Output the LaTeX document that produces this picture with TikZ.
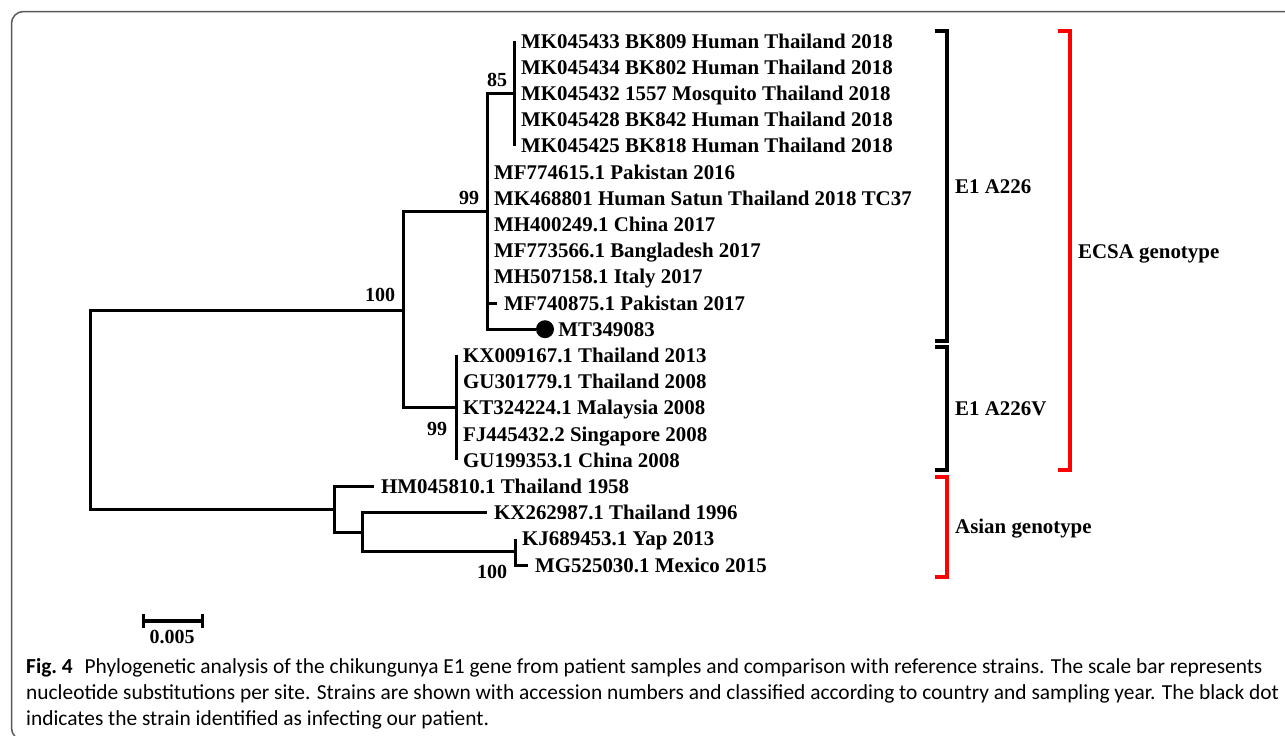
\documentclass[tikz,border=0pt]{standalone}
\usepackage{fontspec}
\setmainfont{Liberation Serif}
\newfontfamily\capfont{Carlito}
\usepackage{tikz}
\usetikzlibrary{positioning}

\begin{document}
\begin{tikzpicture}[x=1pt,y=-1pt,
  branch/.style={line width=3pt,line join=miter},
  leaf/.style={anchor=west,inner xsep=7pt,inner ysep=0pt,text height=14pt,text depth=0pt,font=\fontsize{20.9}{24}\selectfont\bfseries},
  boot/.style={inner sep=0pt,font=\fontsize{20}{24}\selectfont\bfseries},
  clade/.style={line width=4pt,line join=miter},
  grp/.style={anchor=west,inner sep=0pt,text height=14pt,text depth=0pt,font=\fontsize{20.9}{24}\selectfont\bfseries},
  caption/.style={anchor=base west,inner sep=0pt,font=\capfont\fontsize{21.4}{24}\selectfont}]
  \useasboundingbox (0,0) rectangle (1285,736);
  \clip (0,0) rectangle (1285,736);
  \draw[line width=1.5pt,black!65,rounded corners=12pt] (1300,11.5) -- (11.5,11.5) -- (11.5,740) -- (1300,740);

  \coordinate (root) at (90,410);
  \coordinate (ecsa) at (403,310.5);
  \coordinate (e226) at (487,211.3);
  \coordinate (c85) at (514,93.4);
  \coordinate (e226v) at (456,407.8);
  \coordinate (asian) at (334,509.3);
  \coordinate (c2) at (362,532.3);
  \coordinate (c3) at (515,551.9);

  \node[leaf] (l1) at (514,41) {MK045433 BK809 Human Thailand 2018};
  \node[leaf] (l2) at (514,67.2) {MK045434 BK802 Human Thailand 2018};
  \node[leaf] (l3) at (514,93.4) {MK045432 1557 Mosquito Thailand 2018};
  \node[leaf] (l4) at (514,119.6) {MK045428 BK842 Human Thailand 2018};
  \node[leaf] (l5) at (514,145.8) {MK045425 BK818 Human Thailand 2018};
  \node[leaf] (l6) at (487,172) {MF774615.1 Pakistan 2016};
  \node[leaf] (l7) at (487,198.2) {MK468801 Human Satun Thailand 2018 TC37};
  \node[leaf] (l8) at (487,224.4) {MH400249.1 China 2017};
  \node[leaf] (l9) at (487,250.6) {MF773566.1 Bangladesh 2017};
  \node[leaf] (l10) at (487,276.8) {MH507158.1 Italy 2017};
  \node[leaf] (l11) at (497,303) {MF740875.1 Pakistan 2017};
  \node[circle,fill,inner sep=0pt,minimum size=18pt] (dot) at (545,329.2) {};
  \node[leaf,inner xsep=4pt,right=0pt of dot] (l12) {MT349083};
  \node[leaf] (l13) at (456,355.4) {KX009167.1 Thailand 2013};
  \node[leaf] (l14) at (456,381.6) {GU301779.1 Thailand 2008};
  \node[leaf] (l15) at (456,407.8) {KT324224.1 Malaysia 2008};
  \node[leaf] (l16) at (456,434) {FJ445432.2 Singapore 2008};
  \node[leaf] (l17) at (456,460.2) {GU199353.1 China 2008};
  \node[leaf] (l18) at (374,486.4) {HM045810.1 Thailand 1958};
  \node[leaf] (l19) at (487,512.6) {KX262987.1 Thailand 1996};
  \node[leaf] (l20) at (515,538.8) {KJ689453.1 Yap 2013};
  \node[leaf] (l21) at (528,565) {MG525030.1 Mexico 2015};

  \draw[branch] (root) |- (ecsa);
  \draw[branch] (root) |- (asian);
  \draw[branch] (ecsa) |- (e226);
  \draw[branch] (ecsa) |- (e226v);
  \draw[branch] (e226) |- (c85);
  \draw[branch] (e226) |- (l11.west);
  \draw[branch] (e226) |- (dot.west);
  \draw[branch] (l1.west) -- (l5.west);
  \draw[branch] (l13.west) -- (l17.west);
  \draw[branch] (asian) |- (l18.west);
  \draw[branch] (asian) |- (c2);
  \draw[branch] (c2) |- (l19.west);
  \draw[branch] (c2) |- (c3);
  \draw[branch] (c3) -- (l20.west);
  \draw[branch] (c3) |- (l21.west);

  \node[boot] (b100) at (380,295) {100};
  \node[boot] (b99) at (469,198) {99};
  \node[boot] (b85) at (497,80) {85};
  \node[boot] (b99v) at (437,429) {99};
  \node[boot] (b100a) at (492,572) {100};

  \draw[clade] (935,31) -| (947,341) -- (935,341);
  \draw[clade] (935,347) -| (947,470) -- (935,470);
  \draw[clade,red] (1058,31) -| (1070,470) -- (1058,470);
  \draw[clade,red] (935,477) -| (947,577) -- (935,577);
  \node[grp] (ga226) at (955,186) {E1 A226};
  \node[grp] (ga226v) at (955,408) {E1 A226V};
  \node[grp] (gecsa) at (1078,251) {ECSA genotype};
  \node[grp] (gasian) at (955,526) {Asian genotype};

  \draw[line width=4pt] (143,621) -- (202,621);
  \draw[line width=3pt] (143,614) -- (143,628) (202,614) -- (202,628);
  \node[boot] (scale) at (172,637) {0.005};

  \node[caption] (cap1) at (26,673) {\textbf{Fig.~4}\hspace{0.55em}Phylogenetic analysis of the chikungunya E1 gene from patient samples and comparison with reference strains. The scale bar represents};
  \node[caption] (cap2) at (26,699) {nucleotide substitutions per site. Strains are shown with accession numbers and classified according to country and sampling year. The black dot};
  \node[caption] (cap3) at (26,725) {indicates the strain identified as infecting our patient.};
\end{tikzpicture}
\end{document}
